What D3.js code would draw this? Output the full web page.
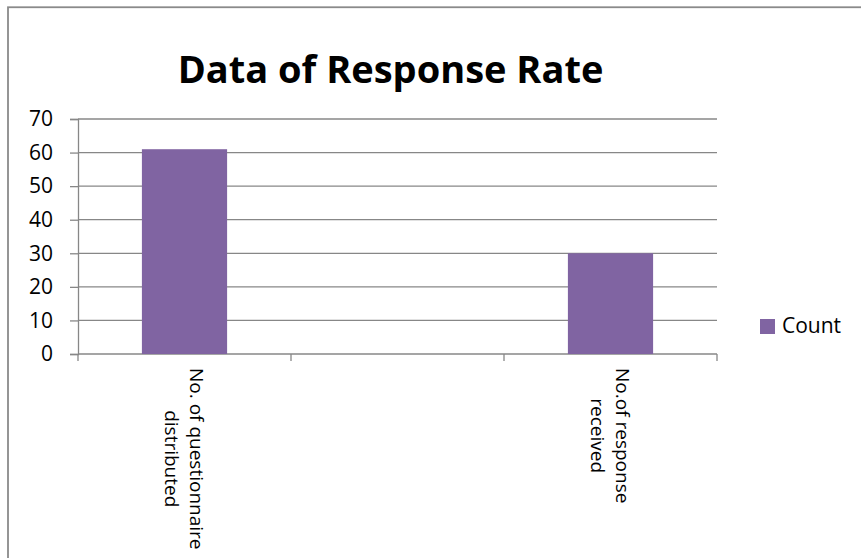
<!DOCTYPE html>
<html>
<head>
<meta charset="utf-8">
<script src="https://cdn.jsdelivr.net/npm/d3@7"></script>
<style>
  html, body { margin: 0; padding: 0; background: #fff; }
  svg { display: block; }
  text { font-family: "Open Sans", "Noto Sans", sans-serif; fill: #000; }
</style>
</head>
<body>
<svg id="chart" width="861" height="558"></svg>
<script>
// Chart data
const title = "Data of Response Rate";
const seriesName = "Count";
const categories = ["No. of questionnaire distributed", "", "No.of response received"];
const categoryLines = [["No. of questionnaire", "distributed"], [], ["No.of response", "received"]];
const values = [61, null, 30];
const yTicks = [0, 10, 20, 30, 40, 50, 60, 70];

const svg = d3.select("#chart");
const W = 861, H = 558;
const plot = { left: 78, right: 717, top: 119, bottom: 354 };
const gridColor = "#878787";
const barColor = "#8064A2";

svg.append("rect").attr("width", W).attr("height", H).attr("fill", "#fff");

// outer chart-area frame (runs off the right and bottom edges)
svg.append("rect")
  .attr("x", 8).attr("y", 7.25)
  .attr("width", W + 20).attr("height", H + 20)
  .attr("fill", "none").attr("stroke", "#8a8a8a").attr("stroke-width", 1.8);

const x = d3.scaleBand().domain(categories).range([plot.left, plot.right]).paddingInner(0).paddingOuter(0);
const y = d3.scaleLinear().domain([0, 70]).range([plot.bottom, plot.top]);

// horizontal gridlines + y ticks
const yAxis = d3.axisLeft(y).tickValues(yTicks).tickSize(8).tickPadding(17).tickFormat(d3.format("d"));
const gy = svg.append("g").attr("transform", `translate(${plot.left},0)`).call(yAxis);
gy.select(".domain").attr("stroke", gridColor).attr("stroke-width", 1.3);
gy.selectAll(".tick line").attr("stroke", gridColor).attr("stroke-width", 1.3);
gy.selectAll(".tick text").attr("font-size", 21).attr("font-family", "Open Sans");

svg.append("g").selectAll("line").data(yTicks).join("line")
  .attr("x1", plot.left).attr("x2", plot.right)
  .attr("y1", d => y(d)).attr("y2", d => y(d))
  .attr("stroke", gridColor).attr("stroke-width", 1.3);

// bars
svg.append("g").selectAll("rect")
  .data(categories.map((c, i) => ({ c, v: values[i] })).filter(d => d.v != null))
  .join("rect")
  .attr("x", d => x(d.c) + x.bandwidth() * 0.3)
  .attr("width", x.bandwidth() * 0.4)
  .attr("y", d => y(d.v))
  .attr("height", d => y(0) - y(d.v))
  .attr("fill", barColor);

// category axis with ticks at band boundaries
const bounds = categories.map(c => x(c)).concat([plot.right]);
svg.append("g").selectAll("line").data(bounds).join("line")
  .attr("x1", d => d).attr("x2", d => d)
  .attr("y1", plot.bottom).attr("y2", plot.bottom + 7)
  .attr("stroke", gridColor).attr("stroke-width", 1.3);

// rotated, wrapped category labels (centred lines, block starts below the axis)
const labelFont = 19, lineH = 25, labelTop = 368;
categories.forEach((c, i) => {
  const lines = categoryLines[i];
  if (!lines.length) return;
  const cx = x(c) + x.bandwidth() / 2;
  const g = svg.append("g");
  const t = g.append("text").attr("font-size", labelFont).attr("text-anchor", "middle");
  lines.forEach((ln, k) => {
    t.append("tspan").attr("x", 0)
      .attr("y", (k - (lines.length - 1) / 2) * lineH)
      .attr("dy", "0.35em").text(ln);
  });
  const maxLen = d3.max(t.selectAll("tspan").nodes(), n => n.getComputedTextLength());
  g.attr("transform", `translate(${cx},${labelTop + maxLen / 2}) rotate(90)`);
});

// title
svg.append("text")
  .attr("x", 390.5).attr("y", 83)
  .attr("text-anchor", "middle")
  .attr("font-size", 38).attr("font-weight", "bold")
  .text(title);

// legend
const lg = svg.append("g").attr("transform", "translate(760,319)");
lg.append("rect").attr("width", 15).attr("height", 15).attr("fill", barColor);
lg.append("text").attr("x", 22).attr("y", 14).attr("font-size", 21).text(seriesName);
</script>
</body>
</html>
